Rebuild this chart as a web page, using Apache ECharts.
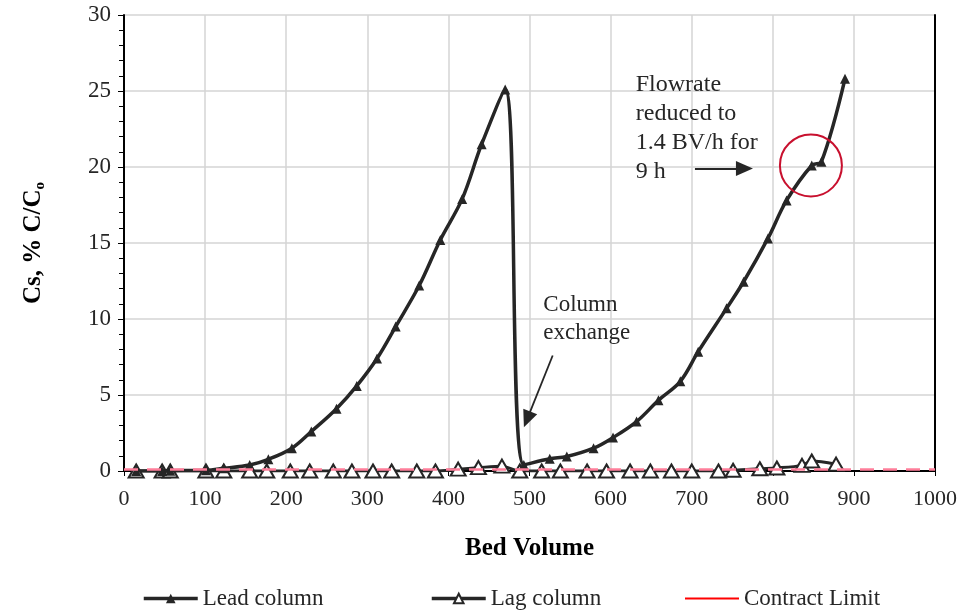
<!DOCTYPE html>
<html>
<head>
<meta charset="utf-8">
<script src="https://cdn.jsdelivr.net/npm/echarts@6/dist/echarts.min.js"></script>
<style>html,body{margin:0;padding:0;background:#fff}#c{width:960px;height:611px}</style>
</head>
<body>
<div id="c"></div>
<script>
// ---- data ----
var leadX = [15, 47, 57, 101, 123, 155, 178, 207, 231, 262, 287, 312, 335, 364, 390, 417, 441, 470, 493, 525, 546, 579, 603, 632, 659, 686, 708, 743, 764, 794, 817, 848, 860, 889];
var leadY = [0.0, 0.0, 0.02, 0.05, 0.18, 0.4, 0.77, 1.5, 2.6, 4.1, 5.6, 7.4, 9.5, 12.2, 15.2, 17.9, 21.5, 25.1, 0.4, 0.8, 0.95, 1.5, 2.2, 3.25, 4.65, 5.9, 7.85, 10.7, 12.45, 15.3, 17.8, 20.1, 20.35, 25.8];
var lagX = [15, 47, 57, 101, 123, 155, 176, 205, 229, 258, 281, 307, 330, 361, 384, 412, 437, 466, 488, 515, 538, 571, 595, 624, 649, 675, 700, 733, 751, 784, 805, 836, 848, 878];
var lagY = [0.0, 0.0, 0.0, 0.0, 0.0, 0.0, 0.0, 0.0, 0.0, 0.0, 0.0, 0.0, 0.0, 0.0, 0.0, 0.12, 0.22, 0.32, 0.0, 0.0, 0.0, 0.0, 0.0, 0.0, 0.0, 0.0, 0.0, 0.0, 0.05, 0.15, 0.2, 0.37, 0.66, 0.45];
var limitX = [0, 1000];
var limitY = [0.1, 0.1];
var xTicks = [0, 100, 200, 300, 400, 500, 600, 700, 800, 900, 1000];
var yTicks = [0, 5, 10, 15, 20, 25, 30];
var seriesNames = ['Lead column', 'Lag column', 'Contract Limit'];

function pairs(xs, ys) { return xs.map(function (x, i) { return [x, ys[i]]; }); }

var FONT = '"Liberation Serif", "Times New Roman", serif';
var INK = '#262626';

var legendText = { fontFamily: FONT, fontSize: 23, color: INK };
function legendAt(left, item) {
  return { bottom: 1, left: left, padding: 0, itemWidth: 54, itemHeight: 12, textStyle: legendText, data: [item] };
}

var chart = echarts.init(document.getElementById('c'), null, { renderer: 'canvas' });
var option = {
  animation: false,
  backgroundColor: '#fff',
  textStyle: { fontFamily: FONT },
  grid: { left: 124, right: 25, top: 15, bottom: 140, containLabel: false },
  xAxis: {
    type: 'value', min: xTicks[0], max: xTicks[xTicks.length - 1], interval: 100,
    name: 'Bed Volume', nameLocation: 'middle', nameGap: 65,
    nameTextStyle: { fontFamily: FONT, fontSize: 25, fontWeight: 'bold', color: '#000' },
    axisLine: { lineStyle: { color: '#000', width: 2 } },
    axisTick: { show: true, length: 5, lineStyle: { color: '#000' } },
    axisLabel: { fontFamily: FONT, fontSize: 22, color: INK, margin: 17, formatter: function (v) { return String(v); } },
    splitLine: { show: true, lineStyle: { color: '#d4d4d4', width: 1.5 } }
  },
  yAxis: [{
    type: 'value', min: yTicks[0], max: yTicks[yTicks.length - 1], interval: 5,
    name: '{m|Cs, % C/C}{s|o}', nameLocation: 'middle', nameGap: 76,
    nameTextStyle: {
      rich: {
        m: { fontFamily: FONT, fontSize: 25, fontWeight: 'bold', color: '#000' },
        s: { fontFamily: FONT, fontSize: 15, fontWeight: 'bold', color: '#000', verticalAlign: 'bottom', padding: [14, 0, 0, 0] }
      }
    },
    axisLine: { show: true, lineStyle: { color: '#000', width: 2 } },
    axisTick: { show: true, length: 6, lineStyle: { color: '#000' } },
    minorTick: { show: true, splitNumber: 5, length: 5, lineStyle: { color: '#000' } },
    axisLabel: { fontFamily: FONT, fontSize: 23, color: INK, margin: 13 },
    splitLine: { show: true, lineStyle: { color: '#d4d4d4', width: 1.5 } }
  }, {
    type: 'value', min: 0, max: 30, interval: 5, position: 'right',
    axisLine: { show: true, lineStyle: { color: '#000', width: 2 } },
    axisTick: { show: false }, axisLabel: { show: false }, splitLine: { show: false }
  }],
  legend: [
    legendAt(142, { name: seriesNames[0], lineStyle: { width: 3.5 } }),
    legendAt(430, { name: seriesNames[1], lineStyle: { width: 3.5 } }),
    legendAt(684, { name: seriesNames[2], itemStyle: { opacity: 0 }, lineStyle: { color: '#ff0000', type: 'solid', width: 2 } })
  ],
  series: [
    {
      name: seriesNames[1], type: 'line', smooth: 0.3, z: 2,
      data: pairs(lagX, lagY),
      symbol: 'triangle', symbolSize: [15, 13], showAllSymbol: true,
      itemStyle: { color: '#fff', borderColor: INK, borderWidth: 2 },
      lineStyle: { color: INK, width: 3 }
    },
    {
      name: seriesNames[0], type: 'line', smooth: 0.35, z: 3,
      data: pairs(leadX, leadY),
      symbol: 'triangle', symbolSize: 10, showAllSymbol: true,
      itemStyle: { color: INK, borderColor: INK, borderWidth: 0 },
      lineStyle: { color: INK, width: 3.5 }
    },
    {
      name: seriesNames[2], type: 'line', z: 4, symbol: 'none',
      data: pairs(limitX, limitY),
      itemStyle: { color: '#ff7f9b' },
      lineStyle: { color: '#ff7f9b', width: 2.5, type: [14, 9] }
    },
    {
      name: 'annot', type: 'line', data: [], z: 5, silent: true,
      markLine: {
        silent: true, animation: false, symbol: ['none', 'triangle'], symbolSize: [15, 17],
        label: { show: false },
        lineStyle: { color: INK, width: 1.8, type: 'solid' },
        data: [
          [{ coord: [704, 19.9] }, { coord: [765, 19.9] }],
          [{ coord: [528.6, 7.6] }, { coord: [497, 3.4] }]
        ]
      },
      markPoint: {
        silent: true, animation: false,
        data: [{ coord: [847, 20.1], symbol: 'circle', symbolSize: 62,
          itemStyle: { color: 'rgba(0,0,0,0)', borderColor: '#c8102e', borderWidth: 2 },
          label: { show: false } }]
      }
    }
  ]
};
chart.setOption(option);

function annotate() {
  var p1 = chart.convertToPixel({ gridIndex: 0 }, [631, 26.35]);
  var p2 = chart.convertToPixel({ gridIndex: 0 }, [517, 11.85]);
  chart.setOption({
    graphic: [
      { type: 'text', left: p1[0], top: p1[1], silent: true,
        style: { text: 'Flowrate\nreduced to\n1.4 BV/h for\n9 h', font: '24px ' + FONT, fill: INK, lineHeight: 29 } },
      { type: 'text', left: p2[0], top: p2[1], silent: true,
        style: { text: 'Column\nexchange', font: '23px ' + FONT, fill: INK, lineHeight: 28 } }
    ]
  });
}
annotate();
</script>
</body>
</html>
